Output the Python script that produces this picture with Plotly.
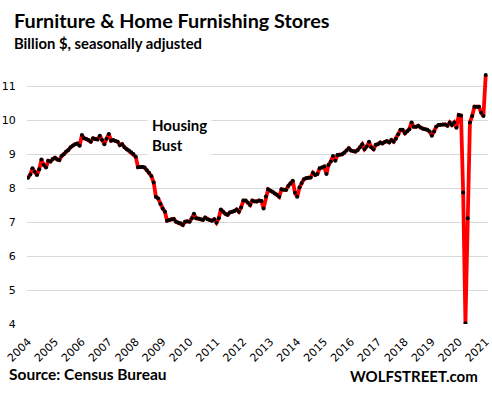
import pandas as pd
import plotly.graph_objects as go

# Monthly sales, billion $, seasonally adjusted (Jan 2004 .. Jan 2021)
v2004 = [8.30, 8.40, 8.58, 8.48, 8.38, 8.55, 8.84, 8.68, 8.60, 8.80, 8.78, 8.85]
v2005 = [8.89, 8.84, 8.82, 8.94, 8.99, 9.07, 9.12, 9.20, 9.25, 9.29, 9.31, 9.24]
v2006 = [9.56, 9.46, 9.44, 9.41, 9.36, 9.46, 9.44, 9.43, 9.54, 9.41, 9.29, 9.45]
v2007 = [9.59, 9.39, 9.41, 9.38, 9.36, 9.26, 9.29, 9.20, 9.14, 9.10, 9.05, 9.00]
v2008 = [8.92, 8.61, 8.62, 8.62, 8.60, 8.52, 8.45, 8.35, 8.16, 7.74, 7.69, 7.53]
v2009 = [7.40, 7.30, 7.04, 7.06, 7.08, 7.09, 7.01, 6.98, 6.96, 6.91, 7.01, 7.02]
v2010 = [7.01, 7.11, 7.24, 7.11, 7.10, 7.08, 7.06, 7.13, 7.08, 7.06, 7.04, 7.08]
v2011 = [6.98, 7.11, 7.37, 7.30, 7.24, 7.21, 7.28, 7.30, 7.32, 7.37, 7.30, 7.43]
v2012 = [7.63, 7.63, 7.57, 7.50, 7.63, 7.60, 7.60, 7.63, 7.62, 7.40, 7.75, 7.96]
v2013 = [7.92, 7.89, 7.84, 7.80, 7.74, 7.96, 7.95, 7.94, 8.06, 8.14, 8.21, 7.86]
v2014 = [7.74, 8.02, 8.15, 8.26, 8.29, 8.30, 8.31, 8.45, 8.38, 8.41, 8.58, 8.60]
v2015 = [8.63, 8.41, 8.68, 8.78, 8.94, 8.80, 8.97, 8.98, 8.99, 9.04, 9.10, 9.17]
v2016 = [9.10, 9.08, 9.07, 9.12, 9.20, 9.29, 9.14, 9.22, 9.36, 9.20, 9.14, 9.27]
v2017 = [9.29, 9.34, 9.31, 9.35, 9.38, 9.34, 9.41, 9.36, 9.45, 9.58, 9.71, 9.71]
v2018 = [9.61, 9.67, 9.73, 9.93, 9.80, 9.80, 9.83, 9.78, 9.74, 9.73, 9.71, 9.66]
v2019 = [9.54, 9.66, 9.80, 9.85, 9.86, 9.87, 9.87, 9.83, 9.93, 9.85, 9.93, 9.77]
v2020 = [10.15, 10.13, 7.87, 4.02, 7.11, 9.93, 10.12, 10.39, 10.39, 10.39, 10.21, 10.12]
v2021 = [11.32]

values = (v2004 + v2005 + v2006 + v2007 + v2008 + v2009 + v2010 + v2011 + v2012
          + v2013 + v2014 + v2015 + v2016 + v2017 + v2018 + v2019 + v2020 + v2021)
dates = pd.date_range("2004-01-01", periods=len(values), freq="MS")

years = list(range(2004, 2022))
tick_vals = [pd.Timestamp(f"{y}-01-01") for y in years]
tick_text = [str(y) for y in years]
y_ticks = [4, 5, 6, 7, 8, 9, 10, 11]

L, R, T, B = 27, 4, 69, 73
PW = 492 - L - R
PH = 397 - T - B

def px(x):
    return (x - L) / PW

def py(y):
    return (397 - B - y) / PH

fig = go.Figure()
fig.add_trace(go.Scatter(
    x=dates, y=values, mode="lines+markers",
    line=dict(color="#ff0000", width=3.8),
    marker=dict(color="black", size=4),
    hoverinfo="skip", showlegend=False,
))

title_font = "Lato, 'Open Sans', sans-serif"
fig.update_layout(
    width=492, height=397,
    margin=dict(l=L, r=R, t=T, b=B, autoexpand=False),
    paper_bgcolor="white", plot_bgcolor="white",
    hovermode=False,
    xaxis=dict(
        range=["2003-12-18", "2021-02-01"],
        tickvals=tick_vals, ticktext=tick_text, tickangle=-45,
        showgrid=False, zeroline=False, showline=False,
        ticks="outside", ticklen=6, tickcolor="rgba(0,0,0,0)",
        tickfont=dict(family="DejaVu Sans", size=11, color="black"),
        automargin=False,
    ),
    yaxis=dict(
        range=[4, 11.5], tickvals=y_ticks,
        showgrid=True, gridcolor="#d9d9d9", gridwidth=1,
        zeroline=False, showline=False,
        ticks="outside", ticklen=8, tickcolor="rgba(0,0,0,0)",
        tickfont=dict(family="DejaVu Sans", size=11, color="black"),
        automargin=False,
    ),
    annotations=[
        dict(text="<b>Furniture & Home Furnishing Stores</b>", xref="paper", yref="paper",
             x=px(12), y=py(20), xanchor="left", yanchor="middle", showarrow=False,
             font=dict(family=title_font, size=19.8, color="black")),
        dict(text="<b>Billion $, seasonally adjusted</b>", xref="paper", yref="paper",
             x=px(12), y=py(43), xanchor="left", yanchor="middle", showarrow=False,
             font=dict(family=title_font, size=14.8, color="black")),
        dict(text="<b>Housing<br>Bust</b>", xref="paper", yref="paper",
             x=px(147), y=py(135), xanchor="left", yanchor="middle", showarrow=False,
             align="left", bgcolor="white", borderpad=4,
             font=dict(family=title_font, size=15, color="black")),
        dict(text="<b>Source: Census Bureau</b>", xref="paper", yref="paper",
             x=px(7), y=py(374), xanchor="left", yanchor="middle", showarrow=False,
             font=dict(family=title_font, size=15.5, color="black")),
        dict(text="<b>WOLFSTREET.com</b>", xref="paper", yref="paper",
             x=px(480), y=py(376), xanchor="right", yanchor="middle", showarrow=False,
             font=dict(family=title_font, size=15, color="black")),
    ],
)

fig.write_html(
    "out.html",
    config={"displayModeBar": False, "staticPlot": True},
    post_script="document.body.style.margin='0';document.body.style.padding='0';",
)
